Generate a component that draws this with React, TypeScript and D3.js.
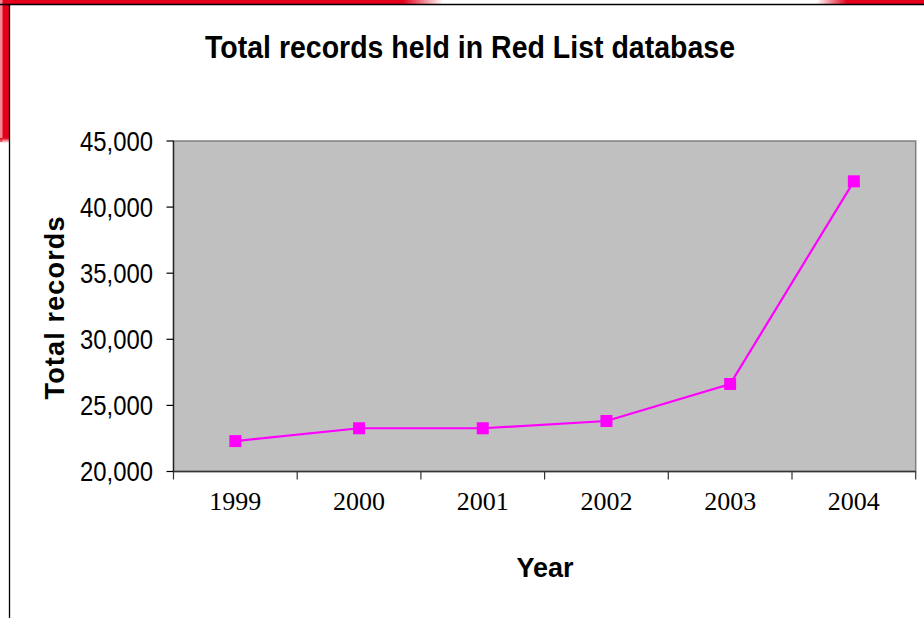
import React from "react";
import * as d3 from "d3";

const years = ["1999", "2000", "2001", "2002", "2003", "2004"];
const totals = [22300, 23270, 23270, 23820, 26620, 41950];
const yTicks = [20000, 25000, 30000, 35000, 40000, 45000];
const title = "Total records held in Red List database";
const xTitle = "Year";
const yTitle = "Total records";

const W = 924;
const H = 618;
const plot = { left: 173.5, right: 915.7, top: 141, bottom: 471.5 };
const RED = "#E2001A";

export default function App() {
  const x = d3.scaleBand<string>().domain(years).range([plot.left, plot.right]).paddingInner(0).paddingOuter(0);
  const y = d3.scaleLinear().domain([20000, 45000]).range([plot.bottom, plot.top]);
  const fmt = d3.format(",");
  const line = d3
    .line<number>()
    .x((_, i) => (x(years[i]) as number) + x.bandwidth() / 2)
    .y((d) => y(d));
  const boundaries = years.map((yr) => x(yr) as number).concat([plot.right]);

  return (
    <svg
      width={W}
      height={H}
      style={{ position: "fixed", left: 0, top: 0, background: "#fff" }}
      fontFamily="Liberation Sans, Arial, sans-serif"
    >
      <defs>
        <linearGradient id="fadeL" x1="0" x2="1" y1="0" y2="0">
          <stop offset="0" stopColor={RED} stopOpacity={1} />
          <stop offset="1" stopColor={RED} stopOpacity={0} />
        </linearGradient>
        <linearGradient id="fadeR" x1="0" x2="1" y1="0" y2="0">
          <stop offset="0" stopColor={RED} stopOpacity={0} />
          <stop offset="1" stopColor={RED} stopOpacity={1} />
        </linearGradient>
        <linearGradient id="fadeD" x1="0" x2="0" y1="0" y2="1">
          <stop offset="0" stopColor={RED} stopOpacity={1} />
          <stop offset="1" stopColor={RED} stopOpacity={0} />
        </linearGradient>
      </defs>
      <rect x={0} y={0} width={W} height={H} fill="#fff" />
      {/* decorative frame */}
      <rect x={0} y={0} width={403} height={4} fill={RED} />
      <rect x={403} y={0} width={40} height={4} fill="url(#fadeL)" />
      <rect x={817} y={0} width={30} height={4} fill="url(#fadeR)" />
      <rect x={847} y={0} width={77} height={4} fill={RED} />
      <rect x={0} y={0} width={9} height={138} fill={RED} />
      <rect x={0} y={0} width={2.5} height={142} fill="#F08A96" />
      <rect x={0} y={138} width={9} height={5} fill="url(#fadeD)" />
      <line x1={0} x2={W} y1={4.5} y2={4.5} stroke="#000" strokeWidth={1.3} />
      <line x1={9.5} x2={9.5} y1={4} y2={H} stroke="#000" strokeWidth={1.3} />

      {/* title */}
      <text
        x={470}
        y={57.5}
        textAnchor="middle"
        fontSize={31.5}
        fontWeight="bold"
        textLength={530}
        lengthAdjust="spacingAndGlyphs"
      >
        {title}
      </text>

      {/* plot area */}
      <rect
        x={plot.left}
        y={plot.top}
        width={plot.right - plot.left}
        height={plot.bottom - plot.top}
        fill="#C0C0C0"
        stroke="#808080"
        strokeWidth={1.5}
      />
      {/* y axis */}
      <line x1={plot.left} x2={plot.left} y1={plot.top} y2={plot.bottom} stroke="#222" strokeWidth={1.3} />
      {yTicks.map((t) => (
        <g key={t}>
          <line x1={plot.left - 7} x2={plot.left} y1={y(t)} y2={y(t)} stroke="#000" strokeWidth={1.2} />
          <text
            x={153}
            y={y(t) + 9.5}
            textAnchor="end"
            fontSize={27}
            textLength={73}
            lengthAdjust="spacingAndGlyphs"
          >
            {fmt(t)}
          </text>
        </g>
      ))}
      {/* x axis */}
      <line x1={plot.left} x2={plot.right} y1={plot.bottom} y2={plot.bottom} stroke="#333" strokeWidth={1.3} />
      {boundaries.map((b, i) => (
        <line key={i} x1={b} x2={b} y1={plot.bottom} y2={plot.bottom + 8} stroke="#333" strokeWidth={1.2} />
      ))}
      {years.map((yr) => (
        <text
          key={yr}
          x={(x(yr) as number) + x.bandwidth() / 2}
          y={510}
          textAnchor="middle"
          fontSize={26}
          fontFamily="Liberation Serif, Times New Roman, serif"
        >
          {yr}
        </text>
      ))}

      {/* axis titles */}
      <text x={545} y={577} textAnchor="middle" fontSize={27} fontWeight="bold">
        {xTitle}
      </text>
      <text
        transform={`translate(64, 308) rotate(-90)`}
        textAnchor="middle"
        fontSize={27}
        fontWeight="bold"
        textLength={183}
        lengthAdjust="spacing"
      >
        {yTitle}
      </text>

      {/* series */}
      <path d={line(totals) || ""} fill="none" stroke="#FF00FF" strokeWidth={2.2} />
      {totals.map((v, i) => (
        <rect
          key={i}
          x={(x(years[i]) as number) + x.bandwidth() / 2 - 6}
          y={y(v) - 6}
          width={12}
          height={12}
          fill="#FF00FF"
        />
      ))}
    </svg>
  );
}
